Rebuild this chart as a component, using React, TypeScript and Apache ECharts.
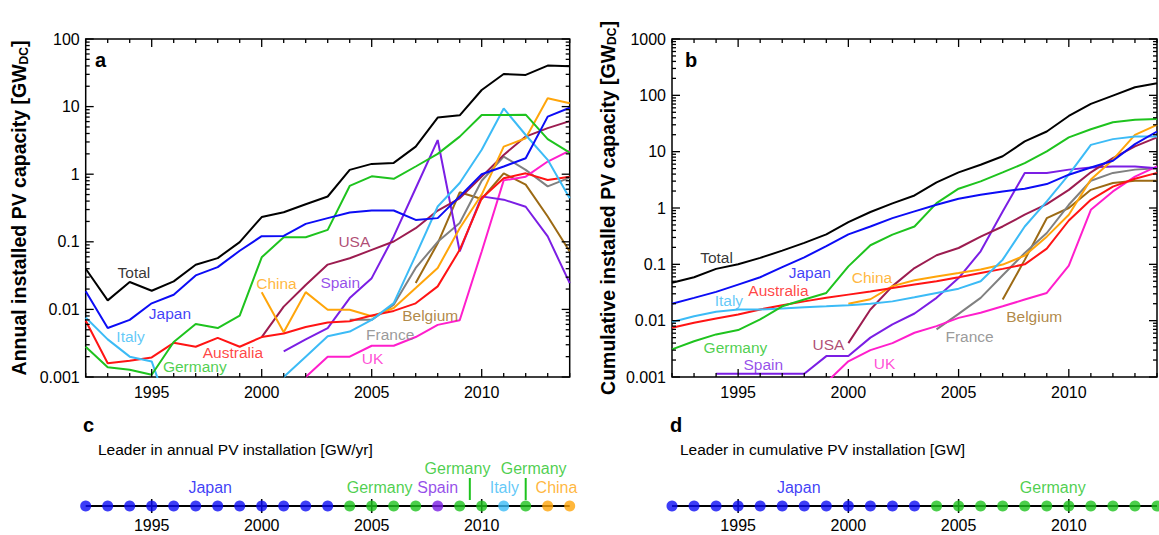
import React, { useEffect, useRef } from "react";
import * as echarts from "echarts";

const FONT = "'Liberation Sans', Arial, Helvetica, sans-serif";

const years = [1992, 1993, 1994, 1995, 1996, 1997, 1998, 1999, 2000, 2001, 2002, 2003, 2004, 2005, 2006, 2007, 2008, 2009, 2010, 2011, 2012, 2013, 2014];

// ---- Panel a: annual installed PV capacity (GW) ----
const annualTotal = [0.04, 0.0136, 0.0254, 0.0189, 0.026, 0.0457, 0.0574, 0.099, 0.232, 0.274, 0.36, 0.468, 1.16, 1.42, 1.47, 2.56, 6.88, 7.44, 17.6, 30.4, 29.4, 40.4, 39.4];
const annualJapan = [0.0185, 0.0053, 0.007, 0.0123, 0.0165, 0.0318, 0.0422, 0.0737, 0.121, 0.122, 0.184, 0.224, 0.271, 0.29, 0.29, 0.211, 0.224, 0.47, 1.0, 1.3, 1.72, 7.1, 9.6];
const annualGermany = [0.0028, 0.00139, 0.00128, 0.00108, 0.0033, 0.0061, 0.0053, 0.0081, 0.059, 0.117, 0.117, 0.15, 0.67, 0.93, 0.853, 1.3, 2.0, 3.6, 7.5, 7.5, 7.6, 3.3, 2.09];
const annualItaly = [0.0076, 0.0036, 0.002, 0.0017, 0.0002, null, null, null, null, 0.001, 0.002, 0.004, 0.0047, 0.007, 0.0124, 0.063, 0.333, 0.74, 2.3, 9.4, 3.8, 1.63, 0.44];
const annualAustralia = [0.0068, 0.0016, 0.00174, 0.00195, 0.0032, 0.0028, 0.0038, 0.0028, 0.0039, 0.0044, 0.0055, 0.0064, 0.0067, 0.0081, 0.0095, 0.0123, 0.0219, 0.076, 0.44, 0.87, 1.03, 0.82, 0.92];
const annualChina = [null, null, null, null, null, null, null, null, 0.018, 0.0046, 0.018, 0.0099, 0.0099, 0.0079, 0.0105, 0.0207, 0.041, 0.159, 0.5, 2.56, 3.4, 13.3, 11.2];
const annualUSA = [null, null, null, null, null, null, null, null, 0.0039, 0.011, 0.023, 0.046, 0.057, 0.076, 0.101, 0.159, 0.29, 0.44, 0.92, 1.93, 3.6, 4.8, 6.1];
const annualSpain = [null, null, null, null, null, null, null, null, null, 0.0024, 0.0036, 0.0053, 0.0147, 0.029, 0.12, 0.62, 3.2, 0.072, 0.47, 0.42, 0.33, 0.12, 0.0245];
const annualUK = [null, null, null, null, null, null, null, null, null, null, 0.001, 0.002, 0.002, 0.0029, 0.0029, 0.0039, 0.0059, 0.0069, 0.072, 0.81, 0.92, 1.54, 2.24];
const annualFrance = [null, null, null, null, null, null, null, null, null, null, null, null, 0.007, 0.007, 0.0117, 0.041, 0.1, 0.19, 0.8, 1.82, 1.16, 0.66, 0.89];
const annualBelgium = [null, null, null, null, null, null, null, null, null, null, null, null, null, null, null, 0.0245, 0.095, 0.54, 0.43, 1.03, 0.7, 0.237, 0.072];

// ---- Panel b: cumulative installed PV capacity (GW) ----
const cumTotal = [0.047, 0.059, 0.083, 0.1, 0.13, 0.175, 0.24, 0.34, 0.56, 0.85, 1.21, 1.67, 2.85, 4.28, 5.85, 8.3, 15.2, 22.8, 43, 70.5, 99, 139, 164];
const cumJapan = [0.02, 0.0254, 0.0324, 0.0437, 0.059, 0.089, 0.133, 0.21, 0.34, 0.47, 0.66, 0.87, 1.14, 1.46, 1.72, 1.97, 2.2, 2.66, 3.9, 5.25, 6.9, 13.6, 22.8];
const cumGermany = [0.0031, 0.0043, 0.0057, 0.0068, 0.0105, 0.018, 0.0237, 0.031, 0.092, 0.218, 0.336, 0.47, 1.22, 2.2, 2.97, 4.28, 6.26, 10.1, 17.9, 25, 33.3, 36.7, 38.2];
const cumItaly = [0.0095, 0.012, 0.0144, 0.0158, 0.0158, 0.0164, 0.0173, 0.018, 0.0188, 0.0199, 0.022, 0.026, 0.031, 0.037, 0.05, 0.121, 0.47, 1.31, 3.9, 13.2, 16.7, 18.6, 18.6];
const cumAustralia = [0.0075, 0.0092, 0.0109, 0.0129, 0.0158, 0.0188, 0.022, 0.0254, 0.029, 0.033, 0.038, 0.044, 0.05, 0.059, 0.07, 0.083, 0.1, 0.19, 0.6, 1.4, 2.4, 3.3, 4.2];
const cumChina = [null, null, null, null, null, null, null, null, 0.02, 0.024, 0.041, 0.052, 0.061, 0.07, 0.081, 0.099, 0.143, 0.31, 0.76, 3.2, 7.2, 19.9, 29.9];
const cumUSA = [null, null, null, null, null, null, null, null, 0.004, 0.0158, 0.041, 0.086, 0.145, 0.195, 0.31, 0.47, 0.76, 1.17, 2.1, 4.3, 7.7, 12.4, 17.9];
const cumSpain = [null, null, 0.00114, 0.00114, 0.00114, 0.00114, 0.00114, 0.00235, 0.00235, 0.005, 0.0086, 0.0134, 0.0254, 0.057, 0.17, 0.87, 4.2, 4.2, 4.8, 5.25, 5.47, 5.47, 5.1];
const cumUK = [null, null, null, null, null, null, null, 0.0008, 0.0019, 0.003, 0.004, 0.0061, 0.008, 0.0112, 0.0138, 0.018, 0.0237, 0.031, 0.095, 0.93, 1.97, 3.6, 5.47];
const cumFrance = [null, null, null, null, null, null, null, null, null, null, null, null, 0.007, 0.0132, 0.0254, 0.064, 0.159, 0.36, 1.14, 3.05, 4.2, 4.8, 5.1];
const cumBelgium = [null, null, null, null, null, null, null, null, null, null, null, null, null, null, null, 0.0237, 0.12, 0.66, 1.0, 2.1, 2.77, 3.05, 3.05];

// ---- Axis tick labels ----
const annualDecades = [0.001, 0.01, 0.1, 1, 10, 100];
const cumDecades = [0.001, 0.01, 0.1, 1, 10, 100, 1000];
const majorYears = [1995, 2000, 2005, 2010];

// ---- In-plot labels ----
const annualLabelNames = ["Total", "Japan", "Italy", "Germany", "Australia", "China", "Spain", "USA", "Belgium", "France", "UK"];
const annualLabelYears = [1994.19, 1995.83, 1994.04, 1996.96, 1998.69, 2000.67, 2003.57, 2004.21, 2007.66, 2005.84, 2005.04];
const annualLabelValues = [0.0356, 0.00873, 0.00399, 0.00145, 0.00232, 0.0245, 0.025, 0.101, 0.0081, 0.00423, 0.00191];

const cumLabelNames = ["Total", "Japan", "Australia", "Italy", "China", "Germany", "Spain", "USA", "UK", "France", "Belgium"];
const cumLabelYears = [1994.02, 1998.25, 1996.83, 1994.58, 2001.07, 1994.88, 1996.14, 1999.1, 2001.64, 2005.5, 2008.43];
const cumLabelValues = [0.133, 0.0714, 0.0343, 0.0228, 0.059, 0.00339, 0.00167, 0.00379, 0.00172, 0.00531, 0.012];

// ---- Panels c, d: leaders ----
const annualLeaders = ["Japan", "Japan", "Japan", "Japan", "Japan", "Japan", "Japan", "Japan", "Japan", "Japan", "Japan", "Japan", "Germany", "Germany", "Germany", "Germany", "Spain", "Germany", "Germany", "Italy", "Germany", "China", "China"];
const cumLeaders = ["Japan", "Japan", "Japan", "Japan", "Japan", "Japan", "Japan", "Japan", "Japan", "Japan", "Japan", "Japan", "Germany", "Germany", "Germany", "Germany", "Germany", "Germany", "Germany", "Germany", "Germany", "Germany", "Germany"];

const annualLeaderLabelNames = ["Japan", "Germany", "Spain", "Italy", "China", "Germany", "Germany"];
const annualLeaderLabelYears = [1997.66, 2005.36, 2008.0, 2011.03, 2013.4, 2008.9, 2012.36];
const annualLeaderLabelRows = [1.9, 1.9, 1.9, 1.9, 1.9, 3.8, 3.8];
const annualPointerYears = [2009.46, 2012.0];

const cumLeaderLabelNames = ["Japan", "Germany"];
const cumLeaderLabelYears = [1997.75, 2009.27];
const cumLeaderLabelRows = [1.9, 1.9];

const COLORS: Record<string, string> = {
  Total: "#000000",
  Japan: "#0c0cf5",
  Germany: "#1ec31e",
  Italy: "#3cbbf6",
  Australia: "#ff1414",
  China: "#ffa50a",
  USA: "#9c1c50",
  Spain: "#7b1ee4",
  UK: "#ff1ecc",
  France: "#808080",
  Belgium: "#9c6a14",
};

const annualSeries: [string, (number | null)[]][] = [
  ["Belgium", annualBelgium], ["France", annualFrance], ["UK", annualUK], ["Spain", annualSpain],
  ["USA", annualUSA], ["China", annualChina], ["Australia", annualAustralia], ["Italy", annualItaly],
  ["Germany", annualGermany], ["Japan", annualJapan], ["Total", annualTotal],
];
const cumSeries: [string, (number | null)[]][] = [
  ["Belgium", cumBelgium], ["France", cumFrance], ["UK", cumUK], ["Spain", cumSpain],
  ["USA", cumUSA], ["China", cumChina], ["Australia", cumAustralia], ["Italy", cumItaly],
  ["Germany", cumGermany], ["Japan", cumJapan], ["Total", cumTotal],
];

function fmtNum(v: number) {
  return String(Number(Number(v).toPrecision(6)));
}

function frameTickData(decades: number[]) {
  const out: number[][] = [];
  years.forEach((y) => out.push([y, decades[0], 0, y % 5 === 0 ? 8 : 4]));
  for (let i = 0; i < decades.length; i++) {
    const d = decades[i];
    out.push([years[0], d, 1, 8]);
    if (i < decades.length - 1) {
      for (let m = 2; m <= 9; m++) out.push([years[0], m * d, 1, 4]);
    }
  }
  return out;
}

function frameTicks(idx: number, decades: number[]) {
  return {
    type: "custom",
    xAxisIndex: idx,
    yAxisIndex: idx,
    silent: true,
    z: 6,
    data: frameTickData(decades),
    renderItem: (params: any, api: any) => {
      const cs = params.coordSys;
      const kind = api.value(2);
      const len = api.value(3);
      const p = api.coord([api.value(0), api.value(1)]);
      const st = { stroke: "#000", lineWidth: 1.3 };
      if (kind === 0) {
        return {
          type: "group",
          children: [
            { type: "line", shape: { x1: p[0], y1: cs.y, x2: p[0], y2: cs.y + len }, style: st },
            { type: "line", shape: { x1: p[0], y1: cs.y + cs.height, x2: p[0], y2: cs.y + cs.height - len }, style: st },
          ],
        };
      }
      return {
        type: "group",
        children: [
          { type: "line", shape: { x1: cs.x, y1: p[1], x2: cs.x + len, y2: p[1] }, style: st },
          { type: "line", shape: { x1: cs.x + cs.width, y1: p[1], x2: cs.x + cs.width - len, y2: p[1] }, style: st },
        ],
      };
    },
  };
}

function lineSeries(list: [string, (number | null)[]][], idx: number) {
  return list.map(([name, arr]) => ({
    type: "line",
    name,
    xAxisIndex: idx,
    yAxisIndex: idx,
    data: years.map((y, i) => [y, arr[i] == null ? "-" : arr[i]]),
    showSymbol: false,
    symbol: "none",
    clip: true,
    connectNulls: false,
    silent: true,
    lineStyle: { color: COLORS[name], width: 2 },
    itemStyle: { color: COLORS[name] },
    z: 3,
  }));
}

function labelSeries(names: string[], xs: number[], ys: number[], idx: number, size: number) {
  return {
    type: "scatter",
    xAxisIndex: idx,
    yAxisIndex: idx,
    silent: true,
    symbolSize: 1,
    itemStyle: { color: "rgba(0,0,0,0)" },
    z: 8,
    data: names.map((n, i) => ({ name: n, value: [xs[i], ys[i]], label: { color: COLORS[n] } })),
    label: { show: true, position: "inside", formatter: "{b}", fontSize: size, lineHeight: size, fontFamily: FONT },
  };
}

function timelineSeries(leaders: string[], names: string[], xs: number[], rows: number[], pointers: number[], idx: number) {
  const out: any[] = [
    {
      type: "line",
      xAxisIndex: idx,
      yAxisIndex: idx,
      silent: true,
      showSymbol: false,
      symbol: "none",
      data: years.map((y) => [y, 0]),
      lineStyle: { color: "#000", width: 2 },
      z: 2,
    },
    {
      type: "custom",
      xAxisIndex: idx,
      yAxisIndex: idx,
      silent: true,
      z: 3,
      data: majorYears.map((y) => [y, 0]),
      renderItem: (params: any, api: any) => {
        const p = api.coord([api.value(0), api.value(1)]);
        return { type: "line", shape: { x1: p[0], y1: p[1] - 7, x2: p[0], y2: p[1] + 7 }, style: { stroke: "#000", lineWidth: 1.5 } };
      },
    },
    {
      type: "scatter",
      xAxisIndex: idx,
      yAxisIndex: idx,
      silent: true,
      symbolSize: 11,
      z: 4,
      data: years.map((y, i) => ({ value: [y, 0], itemStyle: { color: COLORS[leaders[i]] } })),
    },
    labelSeries(names, xs, rows, idx, 16),
  ];
  if (pointers.length) {
    out.push({
      type: "custom",
      xAxisIndex: idx,
      yAxisIndex: idx,
      silent: true,
      z: 4,
      data: pointers.map((y) => [y, 0.6, 2.8]),
      renderItem: (params: any, api: any) => {
        const a = api.coord([api.value(0), api.value(1)]);
        const b = api.coord([api.value(0), api.value(2)]);
        return { type: "line", shape: { x1: a[0], y1: a[1], x2: b[0], y2: b[1] }, style: { stroke: COLORS.Germany, lineWidth: 2 } };
      },
    });
  }
  return out;
}

const yearLabel = (v: number) => (v % 5 === 0 ? String(v) : "");

function mainXAxis(gridIndex: number) {
  return {
    type: "value",
    gridIndex,
    min: 1992,
    max: 2014,
    interval: 1,
    axisLine: { show: false },
    axisTick: { show: false },
    splitLine: { show: false },
    axisLabel: { formatter: yearLabel, fontSize: 16, color: "#000", fontFamily: FONT, margin: 7, showMinLabel: false, showMaxLabel: false },
  };
}

function mainYAxis(gridIndex: number, min: number, max: number, title: string, gap: number) {
  return {
    type: "log",
    logBase: 10,
    gridIndex,
    min,
    max,
    axisLine: { show: false },
    axisTick: { show: false },
    splitLine: { show: false },
    minorSplitLine: { show: false },
    axisLabel: { formatter: fmtNum, fontSize: 16, color: "#000", fontFamily: FONT, margin: 6 },
    name: "{m|" + title + " [GW}{s|DC}{m|]}",
    nameLocation: "middle",
    nameRotate: 90,
    nameGap: gap,
    nameTextStyle: {
      fontFamily: FONT,
      color: "#000",
      rich: {
        m: { fontSize: 19.5, fontWeight: "bold", fontFamily: FONT, color: "#000", lineHeight: 21 },
        s: { fontSize: 12, fontWeight: "bold", fontFamily: FONT, color: "#000", verticalAlign: "bottom", lineHeight: 9 },
      },
    },
  };
}

function timelineXAxis(gridIndex: number) {
  return {
    type: "value",
    gridIndex,
    min: 1992,
    max: 2014,
    interval: 1,
    axisLine: { show: false },
    axisTick: { show: false },
    splitLine: { show: false },
    axisLabel: { formatter: yearLabel, fontSize: 16, color: "#000", fontFamily: FONT, margin: 1, showMinLabel: false, showMaxLabel: false },
  };
}

function timelineYAxis(gridIndex: number) {
  return { type: "value", gridIndex, min: -1, max: 5, show: false };
}

const txt = (x: number, y: number, text: string, font: string) => ({
  type: "text",
  x,
  y,
  style: { text, font, fill: "#000", textVerticalAlign: "middle" },
});

export default function App() {
  const ref = useRef<HTMLDivElement>(null);
  useEffect(() => {
    if (!ref.current) return;
    const chart = echarts.init(ref.current, null, { renderer: "svg" });
    const option: any = {
      animation: false,
      backgroundColor: "#ffffff",
      textStyle: { fontFamily: FONT },
      grid: [
        { left: 85.7, top: 39, width: 484, height: 338, show: true, borderColor: "#000", borderWidth: 1.5, backgroundColor: "transparent" },
        { left: 672, top: 39, width: 485, height: 338, show: true, borderColor: "#000", borderWidth: 1.5, backgroundColor: "transparent" },
        { left: 85.7, top: 456, width: 484, height: 60 },
        { left: 672, top: 456, width: 485, height: 60 },
      ],
      xAxis: [mainXAxis(0), mainXAxis(1), timelineXAxis(2), timelineXAxis(3)],
      yAxis: [
        mainYAxis(0, 0.001, 100, "Annual installed PV capacity", 56),
        mainYAxis(1, 0.001, 1000, "Cumulative installed PV capacity", 54),
        timelineYAxis(2),
        timelineYAxis(3),
      ],
      graphic: [
        txt(95, 60, "a", "bold 20px " + FONT),
        txt(685, 60, "b", "bold 20px " + FONT),
        txt(83, 425, "c", "bold 20px " + FONT),
        txt(98, 449, "Leader in annual PV installation [GW/yr]", "15.5px " + FONT),
        txt(670, 425, "d", "bold 20px " + FONT),
        txt(680, 449, "Leader in cumulative PV installation [GW]", "15.5px " + FONT),
      ],
      series: [
        ...lineSeries(annualSeries, 0),
        ...lineSeries(cumSeries, 1),
        frameTicks(0, annualDecades),
        frameTicks(1, cumDecades),
        labelSeries(annualLabelNames, annualLabelYears, annualLabelValues, 0, 15.5),
        labelSeries(cumLabelNames, cumLabelYears, cumLabelValues, 1, 15.5),
        ...timelineSeries(annualLeaders, annualLeaderLabelNames, annualLeaderLabelYears, annualLeaderLabelRows, annualPointerYears, 2),
        ...timelineSeries(cumLeaders, cumLeaderLabelNames, cumLeaderLabelYears, cumLeaderLabelRows, [], 3),
      ],
    };
    chart.setOption(option);
    return () => chart.dispose();
  }, []);
  return <div ref={ref} style={{ position: "fixed", left: 0, top: 0, width: 1159, height: 535, background: "#fff" }} />;
}
